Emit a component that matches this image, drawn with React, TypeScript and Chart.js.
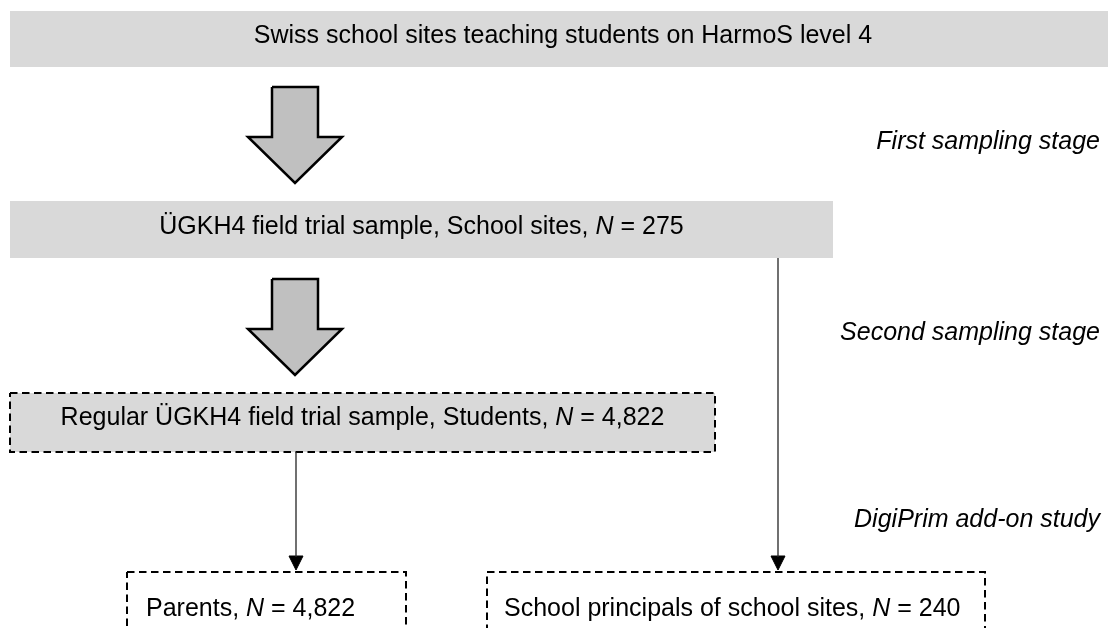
import React, { useEffect, useRef } from "react";
import { Chart, registerables } from "chart.js";

Chart.register(...registerables);

// ---- Content ----
const boxLabels = [
  "Swiss school sites teaching students on HarmoS level 4",
  "ÜGKH4 field trial sample, School sites, {N} = 275",
  "Regular ÜGKH4 field trial sample, Students, {N} = 4,822",
  "Parents, {N} = 4,822",
  "School principals of school sites, {N} = 240",
];
const stageLabels = ["First sampling stage", "Second sampling stage", "DigiPrim add-on study"];

// ---- Layout (data units of a 1108 x 628 plane) ----
const PLANE_W = 1108;
const PLANE_H = 628;
const boxLeft = [10, 10, 10, 127, 487];
const boxRight = [1116, 833, 715, 406, 985];
const boxTop = [11, 201, 393, 572, 572];
const boxBottom = [67, 258, 452, 680, 680];
const boxDashed = [false, false, true, true, true];
const boxFilled = [true, true, true, false, false];
const boxAlign = ["center", "center", "center", "left", "left"];
const boxTextBaseline = [43, 234, 425, 616, 616];
const boxTextPad = [0, 0, 0, 19, 17];

const stageRight = 1100;
const stageBaseline = [149, 340, 527];

const blockArrowCenter = [295, 295];
const blockArrowTop = [87, 279];
const blockArrowNeck = [137, 329];
const blockArrowTip = [183, 375];
const blockShaftHalf = 23;
const blockHeadHalf = 47;

const connectorX = [778, 296];
const connectorFrom = [258, 452];
const connectorTo = [570, 570];
const arrowHeadLen = 14;
const arrowHeadHalf = 7;

const FONT = '"Liberation Sans", Arial, "Helvetica", sans-serif';
const FONT_SIZE = 25;
const BOX_FILL = "#d9d9d9";
const BLOCK_FILL = "#c0c0c0";

type P = { x: number; y: number };

function rectPts(x0: number, y0: number, x1: number, y1: number): P[] {
  return [
    { x: x0, y: y0 },
    { x: x1, y: y0 },
    { x: x1, y: y1 },
    { x: x0, y: y1 },
    { x: x0, y: y0 },
  ];
}

function buildDatasets() {
  const ds: any[] = [];
  // connectors + arrowheads
  connectorX.forEach((x, i) => {
    ds.push({
      data: [
        { x, y: connectorFrom[i] },
        { x, y: connectorTo[i] - arrowHeadLen + 1 },
      ],
      showLine: true,
      borderColor: "#262626",
      borderWidth: 1.3,
      pointRadius: 0,
      fill: false,
    });
    const base = connectorTo[i] - arrowHeadLen;
    ds.push({
      data: [
        { x: x - arrowHeadHalf, y: base },
        { x: x + arrowHeadHalf, y: base },
        { x, y: connectorTo[i] },
        { x: x - arrowHeadHalf, y: base },
      ],
      showLine: true,
      borderColor: "#000",
      borderWidth: 1,
      backgroundColor: "#000",
      pointRadius: 0,
      fill: "shape",
    });
  });
  // block arrows
  blockArrowCenter.forEach((cx, i) => {
    const t = blockArrowTop[i];
    const n = blockArrowNeck[i];
    const tip = blockArrowTip[i];
    ds.push({
      data: [
        { x: cx - blockShaftHalf, y: t },
        { x: cx + blockShaftHalf, y: t },
        { x: cx + blockShaftHalf, y: n },
        { x: cx + blockHeadHalf, y: n },
        { x: cx, y: tip },
        { x: cx - blockHeadHalf, y: n },
        { x: cx - blockShaftHalf, y: n },
        { x: cx - blockShaftHalf, y: t },
      ],
      showLine: true,
      borderColor: "#000",
      borderWidth: 2.5,
      borderJoinStyle: "miter",
      backgroundColor: BLOCK_FILL,
      pointRadius: 0,
      fill: "shape",
    });
  });
  // boxes
  boxLabels.forEach((_, i) => {
    ds.push({
      data: rectPts(boxLeft[i], boxTop[i], boxRight[i], boxBottom[i]),
      showLine: true,
      borderColor: boxDashed[i] ? "#000" : "rgba(0,0,0,0)",
      borderWidth: boxDashed[i] ? 2 : 0,
      borderDash: boxDashed[i] ? [7.5, 4.5] : [],
      borderJoinStyle: "miter",
      backgroundColor: boxFilled[i] ? BOX_FILL : "rgba(0,0,0,0)",
      pointRadius: 0,
      fill: boxFilled[i] ? "shape" : false,
    });
  });
  return ds;
}

function splitRich(label: string) {
  return label.split(/(\{N\})/).filter((s) => s.length > 0).map((s) =>
    s === "{N}" ? { text: "N", italic: true } : { text: s, italic: false }
  );
}

const textPlugin = {
  id: "flowText",
  afterDatasetsDraw(chart: any) {
    const { ctx } = chart;
    const xs = chart.scales.x;
    const ys = chart.scales.y;
    ctx.save();
    ctx.fillStyle = "#000";
    ctx.textBaseline = "alphabetic";
    ctx.textAlign = "left";
    boxLabels.forEach((label, i) => {
      const parts = splitRich(label);
      const widths = parts.map((p) => {
        ctx.font = `${p.italic ? "italic " : ""}${FONT_SIZE}px ${FONT}`;
        return ctx.measureText(p.text).width;
      });
      const total = widths.reduce((a, b) => a + b, 0);
      const left = xs.getPixelForValue(boxLeft[i]);
      const right = xs.getPixelForValue(boxRight[i]);
      let x = boxAlign[i] === "center" ? (left + right) / 2 - total / 2 : left + boxTextPad[i];
      const y = ys.getPixelForValue(boxTextBaseline[i]);
      parts.forEach((p, k) => {
        ctx.font = `${p.italic ? "italic " : ""}${FONT_SIZE}px ${FONT}`;
        ctx.fillText(p.text, x, y);
        x += widths[k];
      });
    });
    ctx.font = `italic ${FONT_SIZE}px ${FONT}`;
    ctx.textAlign = "right";
    stageLabels.forEach((s, i) => {
      ctx.fillText(s, xs.getPixelForValue(stageRight), ys.getPixelForValue(stageBaseline[i]));
    });
    ctx.restore();
  },
};

export default function App() {
  const ref = useRef<HTMLCanvasElement | null>(null);
  useEffect(() => {
    if (!ref.current) return;
    const chart = new Chart(ref.current, {
      type: "scatter",
      data: { datasets: buildDatasets() },
      options: {
        animation: false,
        responsive: true,
        maintainAspectRatio: false,
        layout: { padding: 0 },
        events: [],
        scales: {
          x: { type: "linear", min: 0, max: PLANE_W, display: false },
          y: { type: "linear", min: 0, max: PLANE_H, reverse: true, display: false },
        },
        plugins: {
          legend: { display: false },
          tooltip: { enabled: false },
          title: { display: false },
        },
      },
      plugins: [textPlugin],
    } as any);
    return () => chart.destroy();
  }, []);
  return (
    <div
      style={{
        position: "fixed",
        left: 0,
        top: 0,
        width: PLANE_W,
        height: PLANE_H,
        background: "#fff",
      }}
    >
      <canvas ref={ref} />
    </div>
  );
}
